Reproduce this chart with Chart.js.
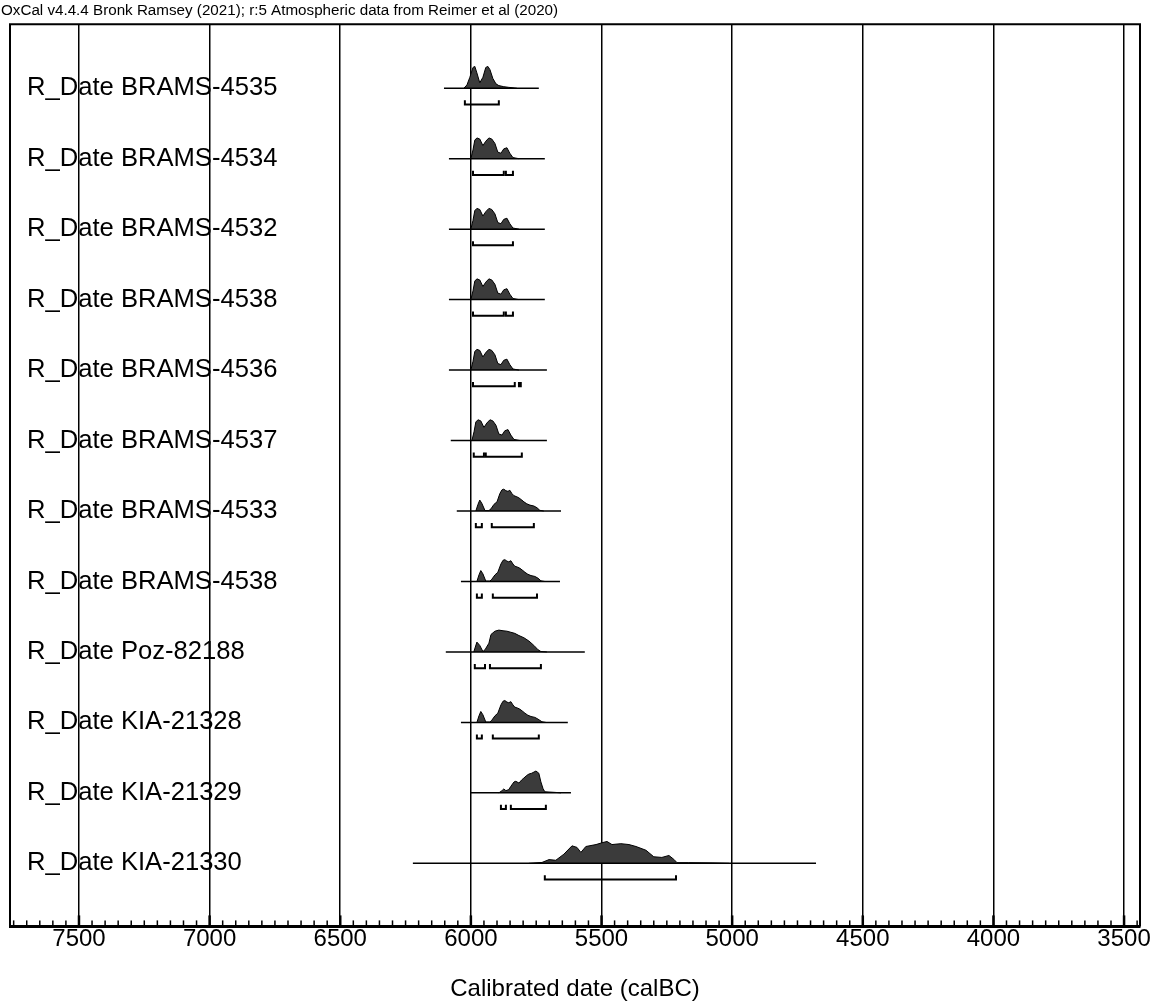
<!DOCTYPE html>
<html>
<head>
<meta charset="utf-8">
<title>OxCal multiplot</title>
<script src="https://cdn.jsdelivr.net/npm/chart.js@4.4.1/dist/chart.umd.min.js"></script>
<style>
  html, body { margin: 0; padding: 0; background: #fff; }
  #wrap { width: 1158px; height: 1005px; }
</style>
</head>
<body>
<div id="wrap"><canvas id="oxcal"></canvas></div>
<script>
// header line printed by OxCal above the plot
const header = 'OxCal v4.4.4 Bronk Ramsey (2021); r:5 Atmospheric data from Reimer et al (2020)';

// one entry per sample, top to bottom
const labels = [
    'R_Date BRAMS-4535', 'R_Date BRAMS-4534', 'R_Date BRAMS-4532', 'R_Date BRAMS-4538',
    'R_Date BRAMS-4536', 'R_Date BRAMS-4537', 'R_Date BRAMS-4533', 'R_Date BRAMS-4538',
    'R_Date Poz-82188', 'R_Date KIA-21328', 'R_Date KIA-21329', 'R_Date KIA-21330'
];

// thin base line of each distribution (calBC)
const lineFrom = [6103, 6084, 6084, 6084, 6084, 6077, 6054, 6038, 6096, 6038, 6000, 6222];
const lineTo   = [5740, 5717, 5717, 5717, 5709, 5709, 5655, 5659, 5564, 5629, 5617, 4679];

// probability curves: years (calBC) and relative heights (1 = peak)
const curveYears = [
    [6027, 6015, 6004, 5992, 5985, 5977, 5966, 5954, 5943, 5935, 5927, 5916, 5904, 5893, 5874, 5855, 5824],
    [6000, 5992, 5985, 5977, 5966, 5954, 5943, 5931, 5920, 5908, 5897, 5885, 5874, 5862, 5851, 5839, 5816],
    [6000, 5992, 5985, 5977, 5966, 5954, 5943, 5931, 5920, 5908, 5897, 5885, 5874, 5862, 5851, 5839, 5816],
    [6000, 5992, 5985, 5977, 5966, 5954, 5943, 5931, 5920, 5908, 5897, 5885, 5874, 5862, 5851, 5839, 5816],
    [6000, 5992, 5985, 5977, 5966, 5954, 5943, 5931, 5920, 5908, 5897, 5885, 5874, 5862, 5851, 5839, 5816],
    [5996, 5988, 5981, 5973, 5962, 5950, 5939, 5927, 5916, 5904, 5893, 5881, 5870, 5858, 5847, 5835, 5812],
    [5981, 5973, 5966, 5958, 5946, 5931, 5923, 5912, 5900, 5889, 5881, 5874, 5866, 5858, 5851, 5843, 5835, 5824, 5816, 5805, 5797, 5786, 5774, 5759, 5747, 5736, 5721],
    [5977, 5969, 5962, 5954, 5943, 5927, 5920, 5908, 5897, 5885, 5877, 5870, 5862, 5855, 5847, 5839, 5832, 5820, 5812, 5801, 5793, 5782, 5770, 5755, 5743, 5732, 5717],
    [5989, 5977, 5966, 5954, 5946, 5931, 5923, 5908, 5893, 5877, 5862, 5847, 5832, 5816, 5797, 5778, 5759, 5743, 5732, 5709],
    [5977, 5969, 5962, 5954, 5943, 5927, 5920, 5908, 5897, 5885, 5877, 5870, 5862, 5855, 5847, 5839, 5832, 5820, 5812, 5801, 5793, 5782, 5770, 5755, 5743, 5728, 5713],
    [5893, 5881, 5874, 5866, 5855, 5847, 5835, 5828, 5816, 5805, 5797, 5786, 5778, 5767, 5751, 5740, 5732, 5724, 5717, 5675, 5655],
    [5778, 5728, 5701, 5675, 5644, 5613, 5594, 5579, 5560, 5521, 5499, 5479, 5460, 5426, 5395, 5368, 5330, 5300, 5269, 5242, 5223, 5211, 5166, 5077, 5012]
];
const curveHeights = [
    [0, 0.15, 0.5, 0.95, 1.0, 0.7, 0.25, 0.5, 0.95, 1.0, 0.85, 0.45, 0.2, 0.12, 0.07, 0.04, 0],
    [0, 0.4, 0.85, 0.95, 0.9, 0.6, 0.8, 0.95, 0.9, 0.7, 0.3, 0.25, 0.45, 0.5, 0.25, 0.05, 0],
    [0, 0.4, 0.85, 0.95, 0.9, 0.6, 0.8, 0.95, 0.9, 0.7, 0.3, 0.25, 0.45, 0.5, 0.25, 0.05, 0],
    [0, 0.4, 0.85, 0.95, 0.9, 0.6, 0.8, 0.95, 0.9, 0.7, 0.3, 0.25, 0.45, 0.5, 0.25, 0.05, 0],
    [0, 0.4, 0.85, 0.95, 0.9, 0.6, 0.8, 0.95, 0.9, 0.7, 0.3, 0.25, 0.45, 0.5, 0.25, 0.05, 0],
    [0, 0.4, 0.85, 0.95, 0.9, 0.6, 0.8, 0.95, 0.9, 0.7, 0.3, 0.25, 0.45, 0.5, 0.25, 0.05, 0],
    [0, 0.3, 0.5, 0.35, 0.02, 0.02, 0.1, 0.3, 0.42, 0.8, 0.97, 1.0, 0.93, 0.9, 0.95, 0.8, 0.7, 0.65, 0.6, 0.5, 0.42, 0.33, 0.27, 0.23, 0.15, 0.03, 0],
    [0, 0.3, 0.5, 0.35, 0.02, 0.02, 0.1, 0.3, 0.42, 0.8, 0.97, 1.0, 0.93, 0.9, 0.95, 0.8, 0.7, 0.65, 0.6, 0.5, 0.42, 0.33, 0.27, 0.23, 0.15, 0.03, 0],
    [0, 0.45, 0.3, 0.02, 0.1, 0.4, 0.8, 0.95, 1.0, 0.97, 0.95, 0.9, 0.85, 0.75, 0.65, 0.5, 0.3, 0.1, 0.02, 0],
    [0, 0.3, 0.5, 0.35, 0.02, 0.02, 0.1, 0.3, 0.42, 0.8, 0.97, 1.0, 0.93, 0.9, 0.95, 0.8, 0.7, 0.65, 0.6, 0.5, 0.42, 0.33, 0.27, 0.23, 0.15, 0.03, 0],
    [0, 0.1, 0.18, 0.1, 0.15, 0.3, 0.5, 0.53, 0.45, 0.6, 0.68, 0.8, 0.86, 0.9, 1.0, 0.9, 0.5, 0.2, 0.05, 0.02, 0],
    [0, 0.04, 0.17, 0.14, 0.42, 0.8, 0.73, 0.5, 0.77, 0.86, 0.94, 1.0, 0.86, 0.9, 0.86, 0.77, 0.6, 0.3, 0.27, 0.36, 0.18, 0.03, 0.03, 0.02, 0]
];

// 95.4% ranges drawn as brackets under each curve
const ranges = [
    [[6023, 5893]],
    [[5992, 5874], [5866, 5839]],
    [[5992, 5839]],
    [[5992, 5874], [5866, 5839]],
    [[5992, 5832], [5816, 5809]],
    [[5989, 5950], [5943, 5805]],
    [[5981, 5958], [5920, 5759]],
    [[5977, 5958], [5916, 5747]],
    [[5985, 5946], [5927, 5732]],
    [[5977, 5958], [5916, 5740]],
    [[5885, 5866], [5847, 5713]],
    [[5717, 5215]]
];

// axis
const xTicks = [7500, 7000, 6500, 6000, 5500, 5000, 4500, 4000, 3500];
const xTitle = 'Calibrated date (calBC)';

const font = 'Liberation Sans, Arial, Helvetica, sans-serif';

// sizes in row units (one row = one sample)
const peak = 0.31;
const drop = 0.23;
const hook = 0.06;

const datasets = [];
labels.forEach(function(name, i) {
    const row = 12 - i;
    // base line
    datasets.push({
        data: [{x: lineFrom[i], y: row}, {x: lineTo[i], y: row}],
        borderColor: '#000',
        borderWidth: 1.5
    });
    // filled distribution
    datasets.push({
        data: curveYears[i].map((yr, k) => ({x: yr, y: row + curveHeights[i][k] * peak})),
        fill: {value: row},
        backgroundColor: '#3b3b3b',
        borderColor: '#000',
        borderWidth: 1
    });
    // range brackets
    ranges[i].forEach(function(r) {
        const low = row - drop;
        datasets.push({
            data: [{x: r[0], y: low + hook}, {x: r[0], y: low}, {x: r[1], y: low}, {x: r[1], y: low + hook}],
            borderColor: '#000',
            borderWidth: 2
        });
    });
});

// frame on top/left/right and the small inward ticks on the date axis
const framePlugin = {
    id: 'frame',
    afterDraw(chart) {
        const ctx = chart.ctx;
        const a = chart.chartArea;
        const xs = chart.scales.x;
        ctx.save();
        ctx.strokeStyle = '#000';
        ctx.lineWidth = 2;
        ctx.beginPath();
        ctx.moveTo(a.left, a.bottom);
        ctx.lineTo(a.left, a.top);
        ctx.lineTo(a.right, a.top);
        ctx.lineTo(a.right, a.bottom);
        ctx.stroke();
        for (let v = 3450; v <= 7750; v += 50) {
            const px = xs.getPixelForValue(v);
            const major = v % 500 === 0;
            ctx.lineWidth = major ? 2.5 : 1.5;
            ctx.beginPath();
            ctx.moveTo(px, a.bottom);
            ctx.lineTo(px, a.bottom - (major ? 11 : 6));
            ctx.stroke();
        }
        ctx.restore();
    }
};

new Chart(document.getElementById('oxcal'), {
    type: 'line',
    data: {datasets: datasets},
    plugins: [framePlugin],
    options: {
        responsive: true,
        maintainAspectRatio: false,
        animation: false,
        layout: {padding: {left: 1, right: 18, top: 0, bottom: 1}},
        elements: {
            point: {radius: 0, hoverRadius: 0},
            line: {tension: 0}
        },
        plugins: {
            legend: {display: false},
            tooltip: {enabled: false},
            title: {
                display: true,
                text: header,
                align: 'start',
                color: '#000',
                font: {family: font, size: 15.2, weight: 'normal'},
                padding: {top: 2, bottom: 4}
            }
        },
        scales: {
            x: {
                type: 'linear',
                reverse: true,
                min: 3439,
                max: 7764,
                afterBuildTicks: function(scale) {
                    scale.ticks = xTicks.map(v => ({value: v}));
                },
                ticks: {
                    color: '#000',
                    font: {family: font, size: 24},
                    padding: -1,
                    maxRotation: 0,
                    autoSkip: false,
                    callback: v => String(v)
                },
                grid: {color: '#000', lineWidth: 1.5, drawTicks: false},
                border: {display: true, color: '#000', width: 3},
                title: {
                    display: true,
                    text: xTitle,
                    color: '#000',
                    font: {family: font, size: 24},
                    padding: {top: 22, bottom: 0}
                }
            },
            y: {
                type: 'linear',
                min: 0.105,
                max: 12.908,
                afterBuildTicks: function(scale) {
                    scale.ticks = labels.map((l, i) => ({value: 12 - i}));
                },
                afterFit: function(scale) {
                    scale.width = 9;
                    scale.paddingTop = 0;
                    scale.paddingBottom = 0;
                },
                ticks: {
                    mirror: true,
                    padding: 17,
                    color: '#000',
                    font: {family: font, size: 25.6},
                    callback: v => labels[12 - v]
                },
                grid: {display: false, drawTicks: false},
                border: {display: false}
            }
        }
    }
});
</script>
</body>
</html>
